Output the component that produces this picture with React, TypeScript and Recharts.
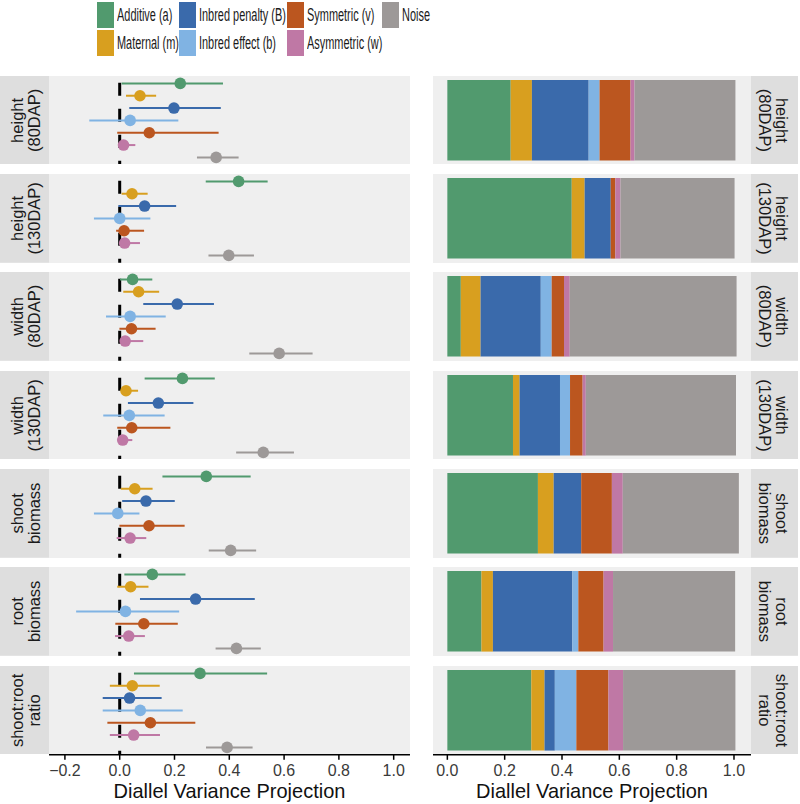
import { Bar, BarChart, ErrorBar, ReferenceLine, Scatter, ScatterChart, XAxis, YAxis } from "recharts"

// facet rows (strip text, two lines each)
const traitLines = [
  ["height", "(80DAP)"],
  ["height", "(130DAP)"],
  ["width", "(80DAP)"],
  ["width", "(130DAP)"],
  ["shoot", "biomass"],
  ["root", "biomass"],
  ["shoot:root", "ratio"],
]

const components = [
  "Additive (a)",
  "Maternal (m)",
  "Inbred penalty (B)",
  "Inbred effect (b)",
  "Symmetric (v)",
  "Asymmetric (w)",
  "Noise",
]
const colors = ["#519a6e", "#d89f1f", "#3a6aab", "#80b3e3", "#bb561f", "#bf78a5", "#9d9998"]

// point estimates and intervals, one value per trait row
const additive = [0.221, 0.434, 0.047, 0.229, 0.316, 0.119, 0.293]
const additiveLo = [0.007, 0.314, 0.001, 0.091, 0.156, 0.017, 0.052]
const additiveHi = [0.377, 0.54, 0.119, 0.347, 0.478, 0.24, 0.538]

const maternal = [0.074, 0.045, 0.069, 0.023, 0.055, 0.04, 0.046]
const maternalLo = [0.023, 0.007, 0.013, 0.004, 0.004, -0.009, -0.036]
const maternalHi = [0.133, 0.102, 0.144, 0.067, 0.12, 0.105, 0.146]

const inbredPenalty = [0.198, 0.091, 0.21, 0.141, 0.096, 0.277, 0.036]
const inbredPenaltyLo = [0.035, -0.005, 0.086, 0.03, 0.009, 0.074, -0.062]
const inbredPenaltyHi = [0.369, 0.206, 0.344, 0.269, 0.201, 0.493, 0.153]

const inbredEffect = [0.038, 0.0, 0.038, 0.035, -0.007, 0.021, 0.075]
const inbredEffectLo = [-0.111, -0.094, -0.05, -0.06, -0.094, -0.159, -0.062]
const inbredEffectHi = [0.214, 0.112, 0.168, 0.164, 0.072, 0.217, 0.23]

const symmetric = [0.108, 0.016, 0.043, 0.044, 0.107, 0.088, 0.112]
const symmetricLo = [-0.009, -0.013, -0.001, -0.009, -0.001, -0.016, -0.045]
const symmetricHi = [0.361, 0.089, 0.131, 0.185, 0.237, 0.212, 0.276]

const asymmetric = [0.014, 0.018, 0.02, 0.011, 0.038, 0.033, 0.051]
const asymmetricLo = [0.0, 0.001, 0.004, -0.005, -0.011, -0.017, -0.036]
const asymmetricHi = [0.057, 0.074, 0.086, 0.046, 0.097, 0.092, 0.147]

const noise = [0.352, 0.398, 0.582, 0.524, 0.405, 0.426, 0.392]
const noiseLo = [0.282, 0.324, 0.473, 0.425, 0.325, 0.35, 0.315]
const noiseHi = [0.434, 0.49, 0.704, 0.636, 0.498, 0.515, 0.485]

const xTicks = [-0.2, 0, 0.2, 0.4, 0.6, 0.8, 1.0]
const barTicks = [0, 0.2, 0.4, 0.6, 0.8, 1.0]

const estimates = [additive, maternal, inbredPenalty, inbredEffect, symmetric, asymmetric, noise]
const lows = [additiveLo, maternalLo, inbredPenaltyLo, inbredEffectLo, symmetricLo, asymmetricLo, noiseLo]
const highs = [additiveHi, maternalHi, inbredPenaltyHi, inbredEffectHi, symmetricHi, asymmetricHi, noiseHi]

const FONT = '"Liberation Sans", Arial, Helvetica, sans-serif'
const PANEL_TOP = 75.6
const PANEL_STEP = 98.35
const PANEL_H = 88.8
const AXIS_H = 49.4
const LEFT_X = 49
const LEFT_W = 361
const RIGHT_X = 433
const RIGHT_W = 318
const PANEL_BG = "#efefef"
const STRIP_BG = "#dedede"

const fmt = (v: number) => v.toFixed(1).replace("-", "\u2212")

function pointsFor(t: number) {
  return components.map((name, k) => {
    const est = estimates[k][t]
    return { name, pos: k + 1, est, err: [est - lows[k][t], highs[k][t] - est] }
  })
}

function barRowFor(t: number) {
  const row: Record<string, number | string> = { trait: traitLines[t].join(" ") }
  components.forEach((_, k) => {
    row["c" + k] = Math.max(0, estimates[k][t])
  })
  return row
}

function Strip({ lines, side }: { lines: string[]; side: "left" | "right" }) {
  const w = side === "left" ? 49 : 47
  const cy = PANEL_H / 2
  // baseline offsets of the two text lines inside the strip
  const base = side === "left" ? [23, 40.4] : [25, 8]
  const rot = side === "left" ? -90 : 90
  return (
    <svg width={w} height={PANEL_H} style={{ position: "absolute", left: 0, top: 0 }}>
      <rect width={w} height={PANEL_H} fill={STRIP_BG} />
      {lines.map((s, i) => (
        <text
          key={s}
          transform={`translate(${base[i]},${cy}) rotate(${rot})`}
          textAnchor="middle"
          fontSize={16.5}
          fill="#1a1a1a"
        >
          {s}
        </text>
      ))}
    </svg>
  )
}

function Dot(color: string) {
  return (p: any) => <circle cx={p.cx} cy={p.cy} r={5.8} fill={color} />
}

function Row({ t }: { t: number }) {
  const last = t === traitLines.length - 1
  const h = last ? PANEL_H + AXIS_H : PANEL_H
  const top = PANEL_TOP + t * PANEL_STEP
  const pts = pointsFor(t)
  const axisProps = {
    type: "number" as const,
    hide: !last,
    height: AXIS_H,
    axisLine: { stroke: "#000", strokeWidth: 1.5 },
    tickLine: { stroke: "#000", strokeWidth: 1.5 },
    tickSize: 5,
    tickMargin: 5,
    tick: { fontSize: 16, fill: "#3a3a3a" },
    tickFormatter: fmt,
    label: {
      value: "Diallel Variance Projection",
      position: "insideBottom" as const,
      offset: 5.7,
      fontSize: 20,
      fill: "#111",
    },
  }
  return (
    <div style={{ position: "absolute", left: 0, top, width: 800, height: h }}>
      <Strip lines={traitLines[t]} side="left" />
      <div style={{ position: "absolute", left: LEFT_X, top: 0, width: LEFT_W, height: PANEL_H, background: PANEL_BG }} />
      <div style={{ position: "absolute", left: LEFT_X, top: 0 }}>
        <ScatterChart width={LEFT_W} height={h} margin={{ top: 0, right: 0, bottom: 0, left: 0 }}>
          <XAxis dataKey="est" domain={[-0.258, 1.0595]} ticks={xTicks} {...axisProps} />
          <YAxis dataKey="pos" type="number" domain={[0.4, 7.6]} reversed hide />
          <ReferenceLine x={0} stroke="#000" strokeWidth={3} strokeDasharray="13 13" strokeDashoffset={9} />
          {pts.map((p, k) => (
            <Scatter key={p.name} name={p.name} data={[p]} fill={colors[k]} shape={Dot(colors[k])} isAnimationActive={false}>
              <ErrorBar dataKey="err" direction="x" width={0} stroke={colors[k]} strokeWidth={2} isAnimationActive={false} />
            </Scatter>
          ))}
        </ScatterChart>
      </div>
      <div style={{ position: "absolute", left: RIGHT_X, top: 0, width: RIGHT_W, height: PANEL_H, background: PANEL_BG }} />
      <div style={{ position: "absolute", left: RIGHT_X, top: 0 }}>
        <BarChart
          width={RIGHT_W}
          height={h}
          data={[barRowFor(t)]}
          layout="vertical"
          barSize={80.6}
          margin={{ top: 0, right: 0, bottom: 0, left: 0 }}
        >
          <XAxis domain={[-0.05, 1.0593]} ticks={barTicks} {...axisProps} />
          <YAxis type="category" dataKey="trait" hide />
          {components.map((name, k) => (
            <Bar key={name} dataKey={"c" + k} name={name} stackId="v" fill={colors[k]} isAnimationActive={false} />
          ))}
        </BarChart>
      </div>
      <div style={{ position: "absolute", left: RIGHT_X + RIGHT_W, top: 0 }}>
        <Strip lines={traitLines[t]} side="right" />
      </div>
    </div>
  )
}

// legend columns (column-major, two rows)
const legendKeyX = [96.7, 179, 286.7, 381.7]

function LegendBlock() {
  return (
    <div style={{ position: "absolute", left: 0, top: 0, width: 800, height: 60 }}>
      {components.map((name, k) => {
        const col = Math.floor(k / 2)
        const row = k % 2
        const x = legendKeyX[col]
        const y = 1.5 + row * 28.4
        return (
          <div key={name}>
            <div style={{ position: "absolute", left: x, top: y, width: 17, height: 26.5, background: colors[k] }} />
            <div
              style={{
                position: "absolute",
                left: x + 20,
                top: y,
                height: 26.5,
                lineHeight: "26.5px",
                fontSize: 17.5,
                color: "#1a1a1a",
                whiteSpace: "nowrap",
                transform: "scaleX(0.625)",
                transformOrigin: "left center",
              }}
            >
              {name}
            </div>
          </div>
        )
      })}
    </div>
  )
}

export default function App() {
  return (
    <div
      style={{
        position: "absolute",
        left: 0,
        top: 0,
        width: 800,
        height: 804,
        background: "#fff",
        fontFamily: FONT,
        overflow: "hidden",
      }}
    >
      <LegendBlock />
      {traitLines.map((_, t) => (
        <Row key={t} t={t} />
      ))}
    </div>
  )
}
